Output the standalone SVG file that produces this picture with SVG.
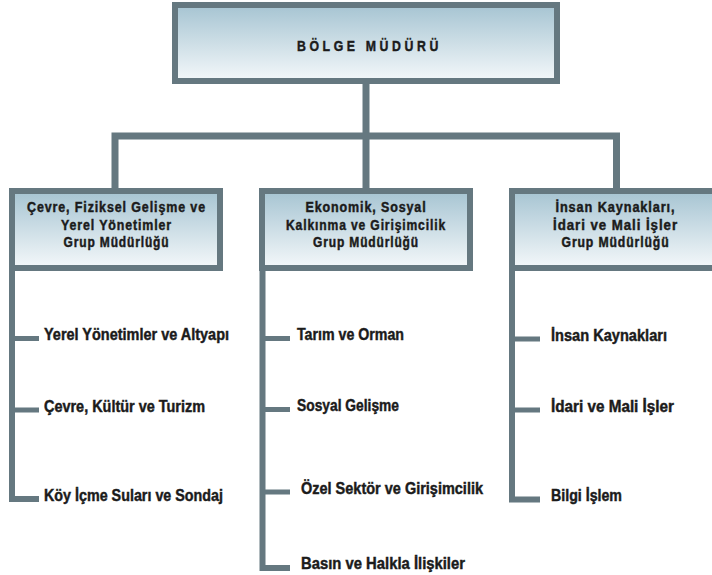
<svg xmlns="http://www.w3.org/2000/svg" width="712" height="575" viewBox="0 0 712 575">
<defs>
<linearGradient id="fill" x1="0" y1="0" x2="0" y2="1">
<stop offset="0" stop-color="#a6c4d2"/>
<stop offset="1" stop-color="#f4f8fa"/>
</linearGradient>
<style>
.box{fill:url(#fill);stroke:#657880;stroke-width:6}
.ln{fill:none;stroke:#657880;stroke-width:7;stroke-linejoin:miter}
.tk{fill:none;stroke:#657880;stroke-width:5}
.vt{fill:none;stroke:#657880;stroke-width:6;stroke-linejoin:miter}
text{font-family:'Liberation Sans',Arial,sans-serif;font-weight:bold;fill:#1b1b1b;stroke:#1b1b1b;stroke-width:0.45}
.h{font-size:14px;letter-spacing:1px;text-anchor:middle}
.s{font-size:16.5px}
.t{font-size:15px;letter-spacing:4.4px;text-anchor:middle}
</style>
</defs>
<rect width="712" height="575" fill="#ffffff"/>
<g id="connectors">
<path class="ln" d="M366 84 V188"/>
<path class="ln" d="M115 188 V136 H616.5 V188"/>
<path class="vt" d="M12 271 V499 H39"/>
<path class="tk" d="M12 338.5 H39 M12 410 H39"/>
<path class="vt" d="M262.5 271 V568 H290"/>
<path class="tk" d="M262.5 338.5 H290 M262.5 409.5 H290 M262.5 492 H290"/>
<path class="vt" d="M512 271 V499.5 H540"/>
<path class="tk" d="M512 339 H540 M512 410 H540"/>
</g>
<g id="bolge-muduru">
<rect class="box" x="175" y="5" width="382" height="76"/>
<text class="t" transform="scale(0.82,1)" x="450.5" y="51">BÖLGE MÜDÜRÜ</text>
</g>
<g id="grup-cevre">
<rect class="box" x="12" y="191" width="208" height="77"/>
<text class="h" x="116.5" y="212" textLength="179" lengthAdjust="spacingAndGlyphs">Çevre, Fiziksel Gelişme ve</text>
<text class="h" x="116.5" y="229.5" textLength="111" lengthAdjust="spacingAndGlyphs">Yerel Yönetimler</text>
<text class="h" x="116.5" y="247" textLength="106" lengthAdjust="spacingAndGlyphs">Grup Müdürlüğü</text>
</g>
<g id="grup-ekonomik">
<rect class="box" x="262" y="191" width="208" height="77"/>
<text class="h" x="366" y="212" textLength="121" lengthAdjust="spacingAndGlyphs">Ekonomik, Sosyal</text>
<text class="h" x="366" y="229.5" textLength="160" lengthAdjust="spacingAndGlyphs">Kalkınma ve Girişimcilik</text>
<text class="h" x="366" y="247" textLength="106" lengthAdjust="spacingAndGlyphs">Grup Müdürlüğü</text>
</g>
<g id="grup-insan">
<rect class="box" x="512" y="191" width="208" height="77"/>
<text class="h" x="615.5" y="212" textLength="120" lengthAdjust="spacingAndGlyphs">İnsan Kaynakları,</text>
<text class="h" x="615.5" y="229.5" textLength="125" lengthAdjust="spacingAndGlyphs">İdari ve Mali İşler</text>
<text class="h" x="615.5" y="247" textLength="108" lengthAdjust="spacingAndGlyphs">Grup Müdürlüğü</text>
</g>
<g id="sub-yerel"><text class="s" x="44" y="340" textLength="185" lengthAdjust="spacingAndGlyphs">Yerel Yönetimler ve Altyapı</text></g>
<g id="sub-cevre"><text class="s" x="44" y="411.5" textLength="161" lengthAdjust="spacingAndGlyphs">Çevre, Kültür ve Turizm</text></g>
<g id="sub-koy"><text class="s" x="44" y="500.5" textLength="179" lengthAdjust="spacingAndGlyphs">Köy İçme Suları ve Sondaj</text></g>
<g id="sub-tarim"><text class="s" x="297" y="340" textLength="107" lengthAdjust="spacingAndGlyphs">Tarım ve Orman</text></g>
<g id="sub-sosyal"><text class="s" x="297" y="411" textLength="102" lengthAdjust="spacingAndGlyphs">Sosyal Gelişme</text></g>
<g id="sub-ozel"><text class="s" x="301" y="493.5" textLength="182" lengthAdjust="spacingAndGlyphs">Özel Sektör ve Girişimcilik</text></g>
<g id="sub-basin"><text class="s" x="301" y="569" textLength="164" lengthAdjust="spacingAndGlyphs">Basın ve Halkla İlişkiler</text></g>
<g id="sub-insan"><text class="s" x="551" y="340.5" textLength="116" lengthAdjust="spacingAndGlyphs">İnsan Kaynakları</text></g>
<g id="sub-idari"><text class="s" x="551" y="411.5" textLength="123" lengthAdjust="spacingAndGlyphs">İdari ve Mali İşler</text></g>
<g id="sub-bilgi"><text class="s" x="551" y="501" textLength="71" lengthAdjust="spacingAndGlyphs">Bilgi İşlem</text></g>
</svg>
